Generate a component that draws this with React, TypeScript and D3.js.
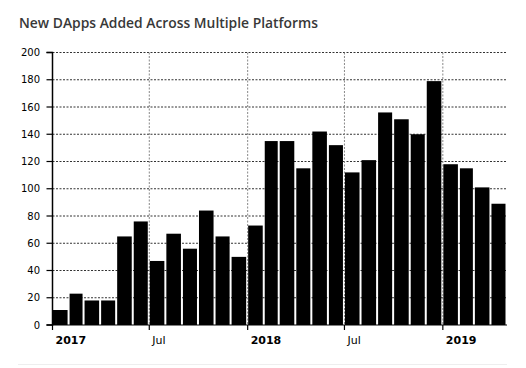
import React from "react";
import * as d3 from "d3";

const months: string[] = [
  "2017-01", "2017-02", "2017-03", "2017-04", "2017-05", "2017-06",
  "2017-07", "2017-08", "2017-09", "2017-10", "2017-11", "2017-12",
  "2018-01", "2018-02", "2018-03", "2018-04", "2018-05", "2018-06",
  "2018-07", "2018-08", "2018-09", "2018-10", "2018-11", "2018-12",
  "2019-01", "2019-02", "2019-03", "2019-04",
];
const newDapps: number[] = [
  11, 23, 18, 18, 65, 76, 47, 67, 56, 84, 65, 50,
  73, 135, 135, 115, 142, 132, 112, 121, 156, 151, 140, 179,
  118, 115, 101, 89,
];
const yTicks: number[] = [0, 20, 40, 60, 80, 100, 120, 140, 160, 180, 200];
const xTickDates: string[] = ["2017-01", "2017-07", "2018-01", "2018-07", "2019-01"];
const xTickLabels: string[] = ["2017", "Jul", "2018", "Jul", "2019"];
const title = "New DApps Added Across Multiple Platforms";

const W = 526;
const H = 368;
const left = 52.5;
const right = 507;
const top = 52.5;
const bottom = 325;

const parse = (s: string) => {
  const [y, m] = s.split("-").map(Number);
  return new Date(y, m - 1, 1);
};

export default function App() {
  const x = d3
    .scaleTime()
    .domain([new Date(2017, 0, 1), new Date(2019, 4, 1)])
    .range([left, right]);
  const y = d3.scaleLinear().domain([0, 200]).range([bottom, top]);

  const bars = months.map((m, i) => {
    const d0 = parse(m);
    const d1 = d3.timeMonth.offset(d0, 1);
    return { d0, d1, v: newDapps[i] };
  });

  const axisFont = "'DejaVu Sans', Verdana, sans-serif";

  return (
    <svg
      width={W}
      height={H}
      style={{ position: "absolute", left: 0, top: 0, background: "#fff" }}
    >
      <text
        x={19}
        y={27.5}
        fontFamily="'Open Sans', sans-serif"
        fontWeight={600}
        fontSize={14}
        fill="#383838"
        textLength={299}
        lengthAdjust="spacingAndGlyphs"
      >
        {title}
      </text>

      {/* horizontal grid */}
      {yTicks
        .filter((t) => t > 0)
        .map((t) => (
          <line
            key={"h" + t}
            x1={left}
            x2={right}
            y1={y(t)}
            y2={y(t)}
            stroke="#333"
            strokeWidth={1}
            strokeDasharray="2,1.5"
          />
        ))}
      {/* vertical grid */}
      {xTickDates.slice(1).map((d) => (
        <line
          key={"v" + d}
          x1={x(parse(d))}
          x2={x(parse(d))}
          y1={top}
          y2={bottom}
          stroke="#888"
          strokeWidth={1}
          strokeDasharray="2,1.5"
        />
      ))}

      {/* bars */}
      {bars.map((b, i) => (
        <rect
          key={i}
          x={x(b.d0) + 0.5}
          width={x(b.d1) - x(b.d0) - 2}
          y={y(b.v)}
          height={y(0) - y(b.v)}
          fill="#000"
        />
      ))}

      {/* y axis */}
      <path
        d={`M${left - 6},${top}H${left}V${bottom}H${left - 6}`}
        fill="none"
        stroke="#000"
        strokeWidth={1.5}
      />
      {yTicks.map((t) => (
        <g key={"yt" + t}>
          <line x1={left - 6} x2={left} y1={y(t)} y2={y(t)} stroke="#000" strokeWidth={1.2} />
          <text
            x={40}
            y={y(t)}
            dy="0.35em"
            textAnchor="end"
            fontFamily={axisFont}
            fontSize={10}
            fill="#000"
          >
            {t}
          </text>
        </g>
      ))}

      {/* x axis */}
      <line x1={left} x2={right} y1={bottom} y2={bottom} stroke="#000" strokeWidth={1.2} />
      {xTickDates.map((d, i) => {
        const px = x(parse(d));
        const isYear = xTickLabels[i] !== "Jul";
        return (
          <g key={"xt" + d}>
            <line x1={px} x2={px} y1={bottom} y2={bottom + 5} stroke="#000" strokeWidth={1.2} />
            <text
              x={px + 3}
              y={343.5}
              fontFamily={axisFont}
              fontSize={11}
              fontWeight={isYear ? 700 : 400}
              fill="#000"
            >
              {xTickLabels[i]}
            </text>
          </g>
        );
      })}

      {/* bottom separator */}
      <line x1={18} x2={507} y1={364.5} y2={364.5} stroke="#eee" strokeWidth={1} />
    </svg>
  );
}
